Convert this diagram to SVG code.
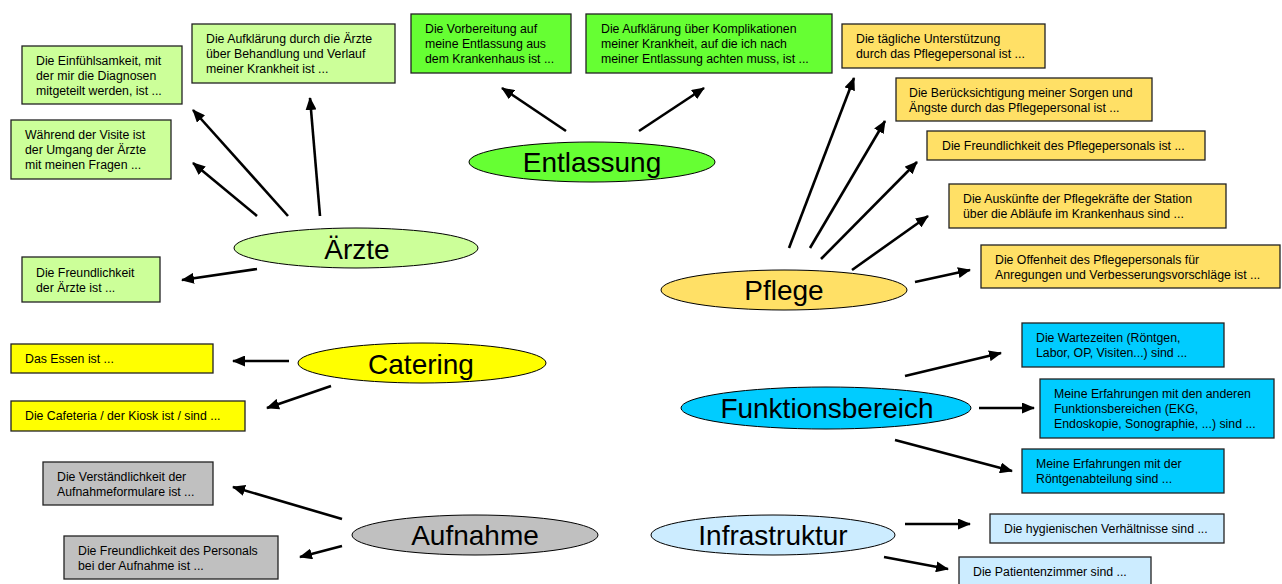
<svg xmlns="http://www.w3.org/2000/svg" width="1282" height="584" viewBox="0 0 1282 584">
<defs>
<marker id="ah" markerUnits="userSpaceOnUse" markerWidth="13" markerHeight="11" refX="12" refY="5.5" orient="auto">
<path d="M0,0 L13,5.5 L0,11 z" fill="#000"/>
</marker>
<style>
.box{stroke:#222;stroke-width:1.3}
.ell{stroke:#000;stroke-width:1}
.t{font-family:"Liberation Sans",Arial,sans-serif;font-size:12.3px;fill:#000}
.big{font-family:"Liberation Sans",Arial,sans-serif;font-size:28px;fill:#000;text-anchor:middle}
.g1{fill:#CCFF99}.g2{fill:#66FF33}.y1{fill:#FFE066}.y2{fill:#FFFF00}.b1{fill:#00CCFF}.b2{fill:#CCECFF}.gr{fill:#C0C0C0}
.c line{stroke:#000;stroke-width:2.6;marker-end:url(#ah)}
</style>
</defs>
<rect width="1282" height="584" fill="#fff"/>

<g class="c" id="connectors">
<line x1="320" y1="216" x2="310" y2="98"/>
<line x1="288" y1="216" x2="193" y2="110"/>
<line x1="257" y1="216" x2="193" y2="163"/>
<line x1="257" y1="269" x2="182" y2="280"/>
<line x1="566" y1="131" x2="502" y2="88"/>
<line x1="639" y1="131" x2="704" y2="88"/>
<line x1="789" y1="248" x2="854" y2="78"/>
<line x1="810" y1="248" x2="885" y2="121"/>
<line x1="821" y1="259" x2="917" y2="162"/>
<line x1="852" y1="270" x2="928" y2="216"/>
<line x1="915" y1="282" x2="970" y2="270"/>
<line x1="289" y1="361" x2="233" y2="361"/>
<line x1="331" y1="386" x2="267" y2="408"/>
<line x1="905" y1="376" x2="1001" y2="353"/>
<line x1="979" y1="408" x2="1034" y2="408"/>
<line x1="895" y1="440" x2="1012" y2="471"/>
<line x1="342" y1="519" x2="233" y2="487"/>
<line x1="342" y1="546" x2="300" y2="557"/>
<line x1="905" y1="524" x2="970" y2="524"/>
<line x1="884" y1="557" x2="948" y2="569"/>
</g>

<g id="entlassung">
<ellipse class="ell g2" cx="592" cy="162" rx="123" ry="20"/>
<text class="big" x="592" y="172">Entlassung</text>
</g>
<g id="e1">
<rect class="box g2" x="411" y="14" width="160" height="59"/>
<text class="t" x="425" y="33">Die Vorbereitung auf</text>
<text class="t" x="425" y="48">meine Entlassung aus</text>
<text class="t" x="425" y="63">dem Krankenhaus ist ...</text>
</g>
<g id="e2">
<rect class="box g2" x="586" y="14" width="246" height="59"/>
<text class="t" x="601" y="33">Die Aufklärung über Komplikationen</text>
<text class="t" x="601" y="48">meiner Krankheit, auf die ich nach</text>
<text class="t" x="601" y="63">meiner Entlassung achten muss, ist ...</text>
</g>

<g id="aerzte">
<ellipse class="ell g1" cx="356" cy="248" rx="122" ry="20"/>
<text class="big" x="357" y="259">Ärzte</text>
</g>
<g id="a1">
<rect class="box g1" x="22" y="46" width="160" height="58"/>
<text class="t" x="36" y="65">Die Einfühlsamkeit, mit</text>
<text class="t" x="36" y="80">der mir die Diagnosen</text>
<text class="t" x="36" y="95">mitgeteilt werden, ist ...</text>
</g>
<g id="a2">
<rect class="box g1" x="11" y="120" width="160" height="59"/>
<text class="t" x="25" y="139">Während der Visite ist</text>
<text class="t" x="25" y="154">der Umgang der Ärzte</text>
<text class="t" x="25" y="169">mit meinen Fragen ...</text>
</g>
<g id="a3">
<rect class="box g1" x="192" y="24" width="203" height="59"/>
<text class="t" x="206" y="43">Die Aufklärung durch die Ärzte</text>
<text class="t" x="206" y="58">über Behandlung und Verlauf</text>
<text class="t" x="206" y="73">meiner Krankheit ist ...</text>
</g>
<g id="a4">
<rect class="box g1" x="22" y="257" width="138" height="45"/>
<text class="t" x="36" y="277">Die Freundlichkeit</text>
<text class="t" x="36" y="292">der Ärzte ist ...</text>
</g>

<g id="pflege">
<ellipse class="ell y1" cx="784" cy="290" rx="123" ry="20"/>
<text class="big" x="784" y="300">Pflege</text>
</g>
<g id="p1">
<rect class="box y1" x="842" y="24" width="203" height="44"/>
<text class="t" x="856" y="43">Die tägliche Unterstützung</text>
<text class="t" x="856" y="58">durch das Pflegepersonal ist ...</text>
</g>
<g id="p2">
<rect class="box y1" x="896" y="78" width="256" height="43"/>
<text class="t" x="909" y="97">Die Berücksichtigung meiner Sorgen und</text>
<text class="t" x="909" y="112">Ängste durch das Pflegepersonal ist ...</text>
</g>
<g id="p3">
<rect class="box y1" x="927" y="131" width="278" height="29"/>
<text class="t" x="942" y="150">Die Freundlichkeit des Pflegepersonals ist ...</text>
</g>
<g id="p4">
<rect class="box y1" x="949" y="184" width="277" height="44"/>
<text class="t" x="963" y="203">Die Auskünfte der Pflegekräfte der Station</text>
<text class="t" x="963" y="218">über die Abläufe im Krankenhaus sind ...</text>
</g>
<g id="p5">
<rect class="box y1" x="981" y="245" width="299" height="43"/>
<text class="t" x="995" y="264">Die Offenheit des Pflegepersonals für</text>
<text class="t" x="995" y="279">Anregungen und Verbesserungsvorschläge ist ...</text>
</g>

<g id="catering">
<ellipse class="ell y2" cx="422" cy="363" rx="124" ry="20"/>
<text class="big" x="421" y="374">Catering</text>
</g>
<g id="c1">
<rect class="box y2" x="11" y="344" width="202" height="29"/>
<text class="t" x="25" y="363">Das Essen ist ...</text>
</g>
<g id="c2">
<rect class="box y2" x="11" y="401" width="234" height="30"/>
<text class="t" x="25" y="420">Die Cafeteria / der Kiosk ist / sind ...</text>
</g>

<g id="funktionsbereich">
<ellipse class="ell b1" cx="826" cy="408" rx="145" ry="21"/>
<text class="big" x="827" y="418">Funktionsbereich</text>
</g>
<g id="f1">
<rect class="box b1" x="1022" y="323" width="202" height="44"/>
<text class="t" x="1036" y="342">Die Wartezeiten (Röntgen,</text>
<text class="t" x="1036" y="357">Labor, OP, Visiten...) sind ...</text>
</g>
<g id="f2">
<rect class="box b1" x="1040" y="379" width="234" height="59"/>
<text class="t" x="1054" y="398">Meine Erfahrungen mit den anderen</text>
<text class="t" x="1054" y="413">Funktionsbereichen (EKG,</text>
<text class="t" x="1054" y="428">Endoskopie, Sonographie, ...) sind ...</text>
</g>
<g id="f3">
<rect class="box b1" x="1022" y="449" width="202" height="44"/>
<text class="t" x="1036" y="468">Meine Erfahrungen mit der</text>
<text class="t" x="1036" y="483">Röntgenabteilung sind ...</text>
</g>

<g id="aufnahme">
<ellipse class="ell gr" cx="475" cy="535" rx="123" ry="20"/>
<text class="big" x="475" y="545">Aufnahme</text>
</g>
<g id="u1">
<rect class="box gr" x="43" y="462" width="170" height="43"/>
<text class="t" x="57" y="481">Die Verständlichkeit der</text>
<text class="t" x="57" y="496">Aufnahmeformulare ist ...</text>
</g>
<g id="u2">
<rect class="box gr" x="64" y="536" width="214" height="43"/>
<text class="t" x="78" y="555">Die Freundlichkeit des Personals</text>
<text class="t" x="78" y="570">bei der Aufnahme ist ...</text>
</g>

<g id="infrastruktur">
<ellipse class="ell b2" cx="773" cy="535" rx="122" ry="20"/>
<text class="big" x="773" y="545">Infrastruktur</text>
</g>
<g id="i1">
<rect class="box b2" x="990" y="514" width="234" height="29"/>
<text class="t" x="1004" y="533">Die hygienischen Verhältnisse sind ...</text>
</g>
<g id="i2">
<rect class="box b2" x="959" y="557" width="192" height="30"/>
<text class="t" x="973" y="576">Die Patientenzimmer sind ...</text>
</g>
</svg>
